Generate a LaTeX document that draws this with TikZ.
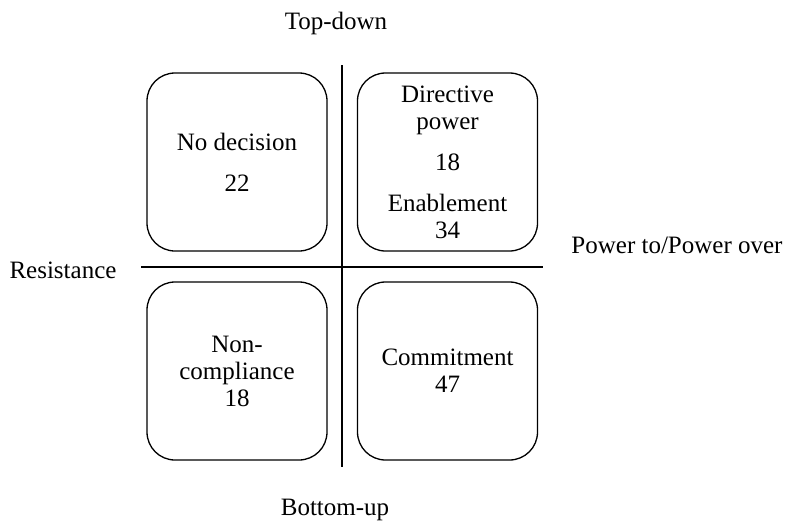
\documentclass[tikz,border=0pt]{standalone}
\usepackage{fontspec}
\setmainfont{Liberation Serif}
\begin{document}
\begin{tikzpicture}[x=0.5pt, y=-0.5pt, font=\fontsize{12.5}{13.5}\selectfont, every node/.style={align=center, inner sep=0pt}, quad/.style={draw, line width=0.65pt, rounded corners=14pt, minimum width=90pt, minimum height=89pt}, axis/.style={line width=0.9pt}]
        \useasboundingbox (0,0) rectangle (792,525);
        \node[quad] (nodec) at (237, 162) {No decision\\[7pt]22};
        \node[quad] (direct) at (447.5, 162) {Directive\\power\\[7pt]18\\[7pt]Enablement\\34};
        \node[quad] (noncomp) at (237, 371) {Non-\\compliance\\18};
        \node[quad] (commit) at (447.5, 371) {Commitment\\47};

        \coordinate (top) at (342, 65);
        \coordinate (bottom) at (342, 467);
        \coordinate (left) at (141, 267);
        \coordinate (right) at (543, 267);
        \draw[axis] (top) -- (bottom);
        \draw[axis] (left) -- (right);

        \node (topdown) at (336, 23) {Top-down};
        \node (bottomup) at (335, 510) {Bottom-up};
        \node (resist) at (63, 270) {Resistance};
        \node (power) at (677, 245) {Power to/Power over};
    \end{tikzpicture}
\end{document}
